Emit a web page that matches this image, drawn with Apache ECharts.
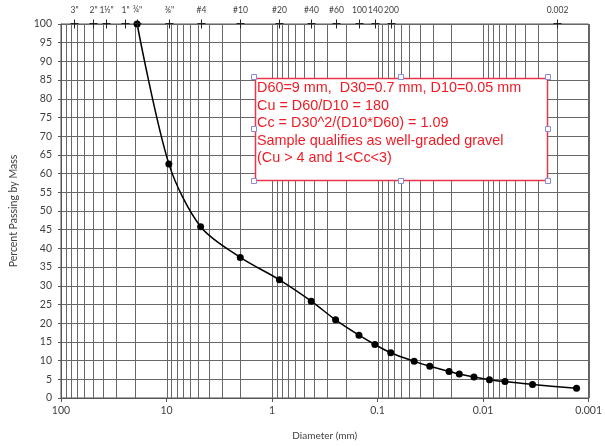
<!DOCTYPE html>
<html><head><meta charset="utf-8">
<script src="https://cdn.jsdelivr.net/npm/echarts@6/dist/echarts.min.js"></script>
<style>html,body{margin:0;padding:0;background:#fff}#c{width:605px;height:446px}</style>
</head><body><div id="c"></div>
<script>
// Data
const diameters = [19, 9.5, 4.75, 2.0, 0.85, 0.425, 0.25, 0.15, 0.106, 0.075, 0.045, 0.032, 0.021, 0.0168, 0.0122, 0.0087, 0.0062, 0.0034, 0.0013];
const percentPassing = [100, 62.6, 45.8, 37.6, 31.6, 25.9, 20.9, 16.8, 14.3, 12.1, 9.8, 8.5, 7.1, 6.4, 5.6, 4.9, 4.4, 3.6, 2.6];
const sieveSizes = [75, 50, 37.5, 25, 19, 9.5, 4.75, 2.0, 0.85, 0.425, 0.25, 0.15, 0.106, 0.075, 0.002];
const sieveLabels = ['3"', '2"', '1½"', '1"', '¾"', '⅜"', '#4', '#10', '#20', '#40', '#60', '100', '140', '200', '0.002'];
const noteLines = [
  'D60=9 mm,  D30=0.7 mm, D10=0.05 mm',
  'Cu = D60/D10 = 180',
  'Cc = D30^2/(D10*D60) = 1.09',
  'Sample qualifies as well-graded gravel',
  '(Cu > 4 and 1<Cc<3)'
];

// vertical log grid lines (1..9 x each decade)
const gridValues = [];
for (let e = -3; e <= 1; e++) {
  for (let m = 1; m <= 9; m++) gridValues.push(parseFloat((m * Math.pow(10, e)).toPrecision(6)));
}

const chart = echarts.init(document.getElementById('c'), null, {renderer: 'canvas'});
const FONT = 'Lato';
const GRID = '#686868';
const fmt = v => String(parseFloat(Number(v).toPrecision(6)));

const handles = [];
const hb = {l: 254, t: 77, r: 548, b: 181};
[[hb.l, hb.t], [(hb.l + hb.r) / 2, hb.t], [hb.r, hb.t], [hb.l, (hb.t + hb.b) / 2], [hb.r, (hb.t + hb.b) / 2], [hb.l, hb.b], [(hb.l + hb.r) / 2, hb.b], [hb.r, hb.b]].forEach(p => {
  handles.push({type: 'rect', z: 101, shape: {x: Math.round(p[0]) - 2.5, y: Math.round(p[1]) - 2.5, width: 5, height: 5},
    style: {fill: '#fff', stroke: '#8c8cd8', lineWidth: 1}});
});

chart.setOption({
  animation: false,
  backgroundColor: '#fff',
  grid: {left: 59, right: 14, top: 24, bottom: 43, show: true, borderColor: '#555', borderWidth: 1, containLabel: false},
  xAxis: {
    type: 'log', logBase: 10, min: 0.001, max: 100, inverse: true,
    name: 'Diameter (mm)', nameLocation: 'middle', nameGap: 33,
    nameTextStyle: {fontSize: 10, color: '#404040', fontFamily: FONT},
    axisLine: {show: true, lineStyle: {color: '#555'}},
    axisTick: {show: true, length: 4, lineStyle: {color: '#555'}},
    axisLabel: {fontSize: 10.5, color: '#404040', fontFamily: FONT, margin: 7, formatter: fmt, showMinLabel: true, showMaxLabel: true},
    splitLine: {show: false}
  },
  yAxis: {
    type: 'value', min: 0, max: 100, interval: 5,
    name: 'Percent Passing by Mass', nameLocation: 'middle', nameGap: 42,
    nameTextStyle: {fontSize: 10.5, color: '#404040', fontFamily: FONT},
    axisLine: {show: true, lineStyle: {color: '#555'}},
    axisTick: {show: true, length: 3, lineStyle: {color: '#555'}},
    axisLabel: {fontSize: 10.5, color: '#404040', fontFamily: FONT, margin: 9},
    splitLine: {show: true, lineStyle: {color: GRID, width: 1}}
  },
  series: [
    {
      type: 'custom', z: 1, silent: true,
      data: gridValues.map(v => [v, 0]),
      encode: {x: 0, y: 1},
      renderItem: function (params, api) {
        const a = api.coord([api.value(0), 100]);
        const b = api.coord([api.value(0), 0]);
        const x = Math.round(a[0]) + 0.5;
        return {type: 'line', shape: {x1: x, y1: a[1], x2: x, y2: b[1]}, style: {stroke: GRID, lineWidth: 1}};
      }
    },
    {
      type: 'custom', z: 6, silent: true, clip: false,
      data: sieveSizes.map(v => [v, 100]),
      encode: {x: 0, y: 1},
      renderItem: function (params, api) {
        const p = api.coord([api.value(0), api.value(1)]);
        const x = Math.round(p[0]) + 0.5, y = Math.round(p[1]) + 0.5;
        return {type: 'group', children: [
          {type: 'line', shape: {x1: x, y1: y - 5, x2: x, y2: y + 4}, style: {stroke: '#222', lineWidth: 1}},
          {type: 'line', shape: {x1: x - 4, y1: y - 1, x2: x + 4, y2: y - 1}, style: {stroke: '#222', lineWidth: 1}},
          {type: 'text', x: x, y: y - 14, style: {text: sieveLabels[params.dataIndex], textAlign: 'center', textVerticalAlign: 'middle', fontSize: 8.5, fill: '#404040', fontFamily: FONT}}
        ]};
      }
    },
    {
      type: 'line', z: 5, clip: false,
      data: diameters.map((d, i) => [d, percentPassing[i]]),
      smooth: 0.3,
      symbol: 'circle', symbolSize: 7,
      itemStyle: {color: '#000'},
      lineStyle: {color: '#000', width: 1.5}
    }
  ],
  graphic: [
    {type: 'rect', z: 100, shape: {x: 255.5, y: 78.5, width: 292, height: 102},
      style: {fill: '#fff', stroke: '#e8364a', lineWidth: 1.5}},
    {type: 'text', z: 102, x: 257, y: 79.5,
      style: {text: noteLines.join('\n'), fill: '#ee1c25', fontSize: 14.4, lineHeight: 17.5, fontFamily: 'Liberation Sans', textVerticalAlign: 'top', textAlign: 'left'}}
  ].concat(handles)
});
</script>
</body></html>
